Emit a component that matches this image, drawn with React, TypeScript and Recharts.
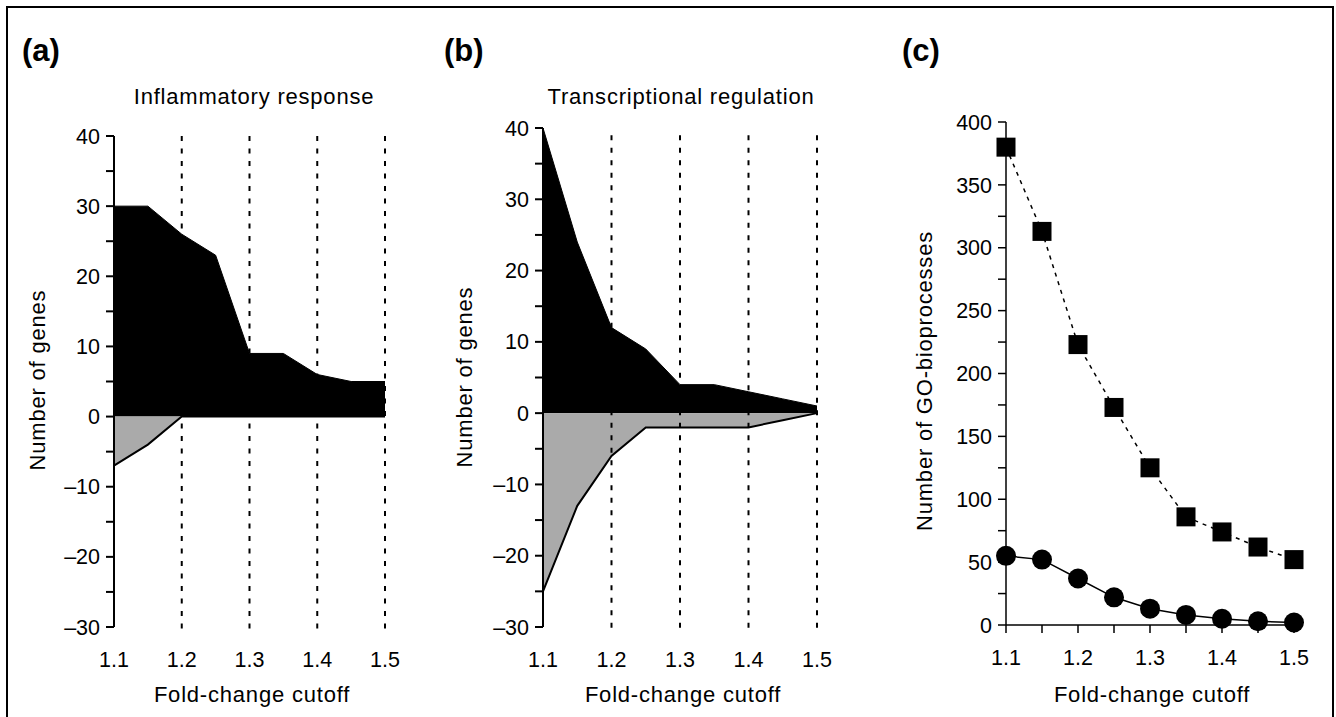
import { ComposedChart, Area, Line, XAxis, YAxis, ReferenceLine } from "recharts";

const cutoffs = [1.1, 1.15, 1.2, 1.25, 1.3, 1.35, 1.4, 1.45, 1.5];
const inflammatoryUp = [30, 30, 26, 23, 9, 9, 6, 5, 5];
const inflammatoryDown = [-7, -4, 0, 0, 0, 0, 0, 0, 0];
const transcriptionUp = [40, 24, 12, 9, 4, 4, 3, 2, 1];
const transcriptionDown = [-25, -13, -6, -2, -2, -2, -2, -1, 0];
const goSquares = [380, 313, 223, 173, 125, 86, 74, 62, 52];
const goCircles = [55, 52, 37, 22, 13, 8, 5, 3, 2];

const geneTicks = [-30, -25, -20, -15, -10, -5, 0, 5, 10, 15, 20, 25, 30, 35, 40];
const foldTicks = [1.1, 1.2, 1.3, 1.4, 1.5];
const dashedCutoffs = [1.2, 1.3, 1.4, 1.5];
const goTicks = [0, 25, 50, 75, 100, 125, 150, 175, 200, 225, 250, 275, 300, 325, 350, 375, 400];

const FONT = "'Liberation Sans', Arial, Helvetica, sans-serif";
const tickStyle = { fill: "#000", fontSize: 21.5, fontFamily: FONT };

const minus = (v: number) => (v < 0 ? "\u2013" + Math.abs(v) : String(v));
const geneFmt = (v: number) => (v % 10 === 0 ? minus(v) : "");
const foldFmt = (v: number) => (Math.round(v * 100) % 10 === 0 ? v.toFixed(1) : "");
const goFmt = (v: number) => (v % 50 === 0 ? String(v) : "");

function GenePanel({ left, width, top, marginLeft, marginRight, dashTop, up, down }: any) {
  const data = cutoffs.map((x, i) => ({ x, up: up[i], down: down[i] }));
  return (
    <div style={{ position: "absolute", left, top: 0 }}>
      <ComposedChart
        width={width}
        height={717}
        data={data}
        margin={{ top, right: marginRight, bottom: 50, left: marginLeft }}
      >
        <XAxis
          dataKey="x"
          type="number"
          domain={[1.1, 1.5]}
          ticks={foldTicks}
          tickFormatter={foldFmt}
          axisLine={false}
          tickLine={false}
          tickSize={0}
          tickMargin={25}
          height={40}
          tick={tickStyle}
          interval={0}
        />
        <YAxis
          type="number"
          domain={[-30, 40]}
          ticks={geneTicks}
          tickFormatter={geneFmt}
          width={60}
          interval={0}
          tickSize={8}
          tickMargin={6}
          tick={tickStyle}
          axisLine={{ stroke: "#000", strokeWidth: 2 }}
          tickLine={{ stroke: "#000", strokeWidth: 2 }}
        />
        {dashedCutoffs.map((c) => (
          <ReferenceLine
            key={c}
            segment={[
              { x: c, y: dashTop },
              { x: c, y: -31 },
            ]}
            ifOverflow="visible"
            stroke="#000"
            strokeWidth={2}
            strokeDasharray="5 7.5"
          />
        ))}
        <Area
          type="linear"
          dataKey="up"
          baseValue={0}
          stroke="#000"
          strokeWidth={1}
          fill="#000"
          fillOpacity={1}
          dot={false}
          activeDot={false}
          isAnimationActive={false}
        />
        <Area
          type="linear"
          dataKey="down"
          baseValue={0}
          stroke="#000"
          strokeWidth={2}
          fill="#aaaaaa"
          fillOpacity={1}
          dot={false}
          activeDot={false}
          isAnimationActive={false}
        />
      </ComposedChart>
    </div>
  );
}

function GoPanel() {
  const data = cutoffs.map((x, i) => ({ x, sq: goSquares[i], circ: goCircles[i] }));
  const square = (p: any) => (
    <rect key={`sq-${p.index}`} x={p.cx - 9.5} y={p.cy - 9.5} width={19} height={19} fill="#000" />
  );
  const circle = (p: any) => <circle key={`ci-${p.index}`} cx={p.cx} cy={p.cy} r={10} fill="#000" />;
  return (
    <div style={{ position: "absolute", left: 880, top: 0 }}>
      <ComposedChart width={456} height={717} data={data} margin={{ top: 122, right: 42, bottom: 52, left: 66 }}>
        <XAxis
          dataKey="x"
          type="number"
          domain={[1.1, 1.5]}
          ticks={cutoffs}
          tickFormatter={foldFmt}
          interval={0}
          height={40}
          tickSize={8}
          tickMargin={17}
          tick={tickStyle}
          axisLine={{ stroke: "#000", strokeWidth: 1.5 }}
          tickLine={{ stroke: "#000", strokeWidth: 1.5 }}
        />
        <YAxis
          type="number"
          domain={[0, 400]}
          ticks={goTicks}
          tickFormatter={goFmt}
          interval={0}
          width={60}
          tickSize={8}
          tickMargin={6}
          tick={tickStyle}
          axisLine={{ stroke: "#000", strokeWidth: 1.5 }}
          tickLine={{ stroke: "#000", strokeWidth: 1.5 }}
        />
        <Line
          type="linear"
          dataKey="sq"
          stroke="#000"
          strokeWidth={1.5}
          strokeDasharray="4 5"
          dot={square}
          activeDot={false}
          isAnimationActive={false}
        />
        <Line
          type="linear"
          dataKey="circ"
          stroke="#000"
          strokeWidth={1.5}
          dot={circle}
          activeDot={false}
          isAnimationActive={false}
        />
      </ComposedChart>
    </div>
  );
}

export default function App() {
  const title = { fontSize: 22, letterSpacing: 0.8, fontFamily: FONT, fill: "#000" };
  const panelLetter = { fontSize: 31, fontWeight: 700, fontFamily: FONT, fill: "#000" };
  return (
    <div style={{ position: "absolute", left: 0, top: 0, width: 1336, height: 717, background: "#fff", overflow: "hidden" }}>
      <GenePanel
        left={0}
        width={450}
        top={136}
        marginLeft={54}
        marginRight={65}
        dashTop={40}
        up={inflammatoryUp}
        down={inflammatoryDown}
      />
      <GenePanel
        left={430}
        width={420}
        top={128}
        marginLeft={53}
        marginRight={33}
        dashTop={39}
        up={transcriptionUp}
        down={transcriptionDown}
      />
      <GoPanel />
      <svg width={1336} height={717} style={{ position: "absolute", left: 0, top: 0, pointerEvents: "none" }}>
        <path d="M7,720 L7,7 L1333,7 L1333,720" fill="none" stroke="#000" strokeWidth={2} />
        <text x={22} y={61} style={panelLetter}>(a)</text>
        <text x={444} y={61} style={panelLetter}>(b)</text>
        <text x={902} y={61} style={panelLetter}>(c)</text>
        <text x={254} y={104} textAnchor="middle" style={title}>Inflammatory response</text>
        <text x={681} y={104} textAnchor="middle" style={title}>Transcriptional regulation</text>
        <text x={252} y={702} textAnchor="middle" style={title}>Fold-change cutoff</text>
        <text x={683} y={702} textAnchor="middle" style={title}>Fold-change cutoff</text>
        <text x={1152} y={702} textAnchor="middle" style={title}>Fold-change cutoff</text>
        <text transform="translate(45,380) rotate(-90)" textAnchor="middle" style={title}>Number of genes</text>
        <text transform="translate(472,377) rotate(-90)" textAnchor="middle" style={title}>Number of genes</text>
        <text transform="translate(932,381) rotate(-90)" textAnchor="middle" style={title}>Number of GO-bioprocesses</text>
      </svg>
    </div>
  );
}
